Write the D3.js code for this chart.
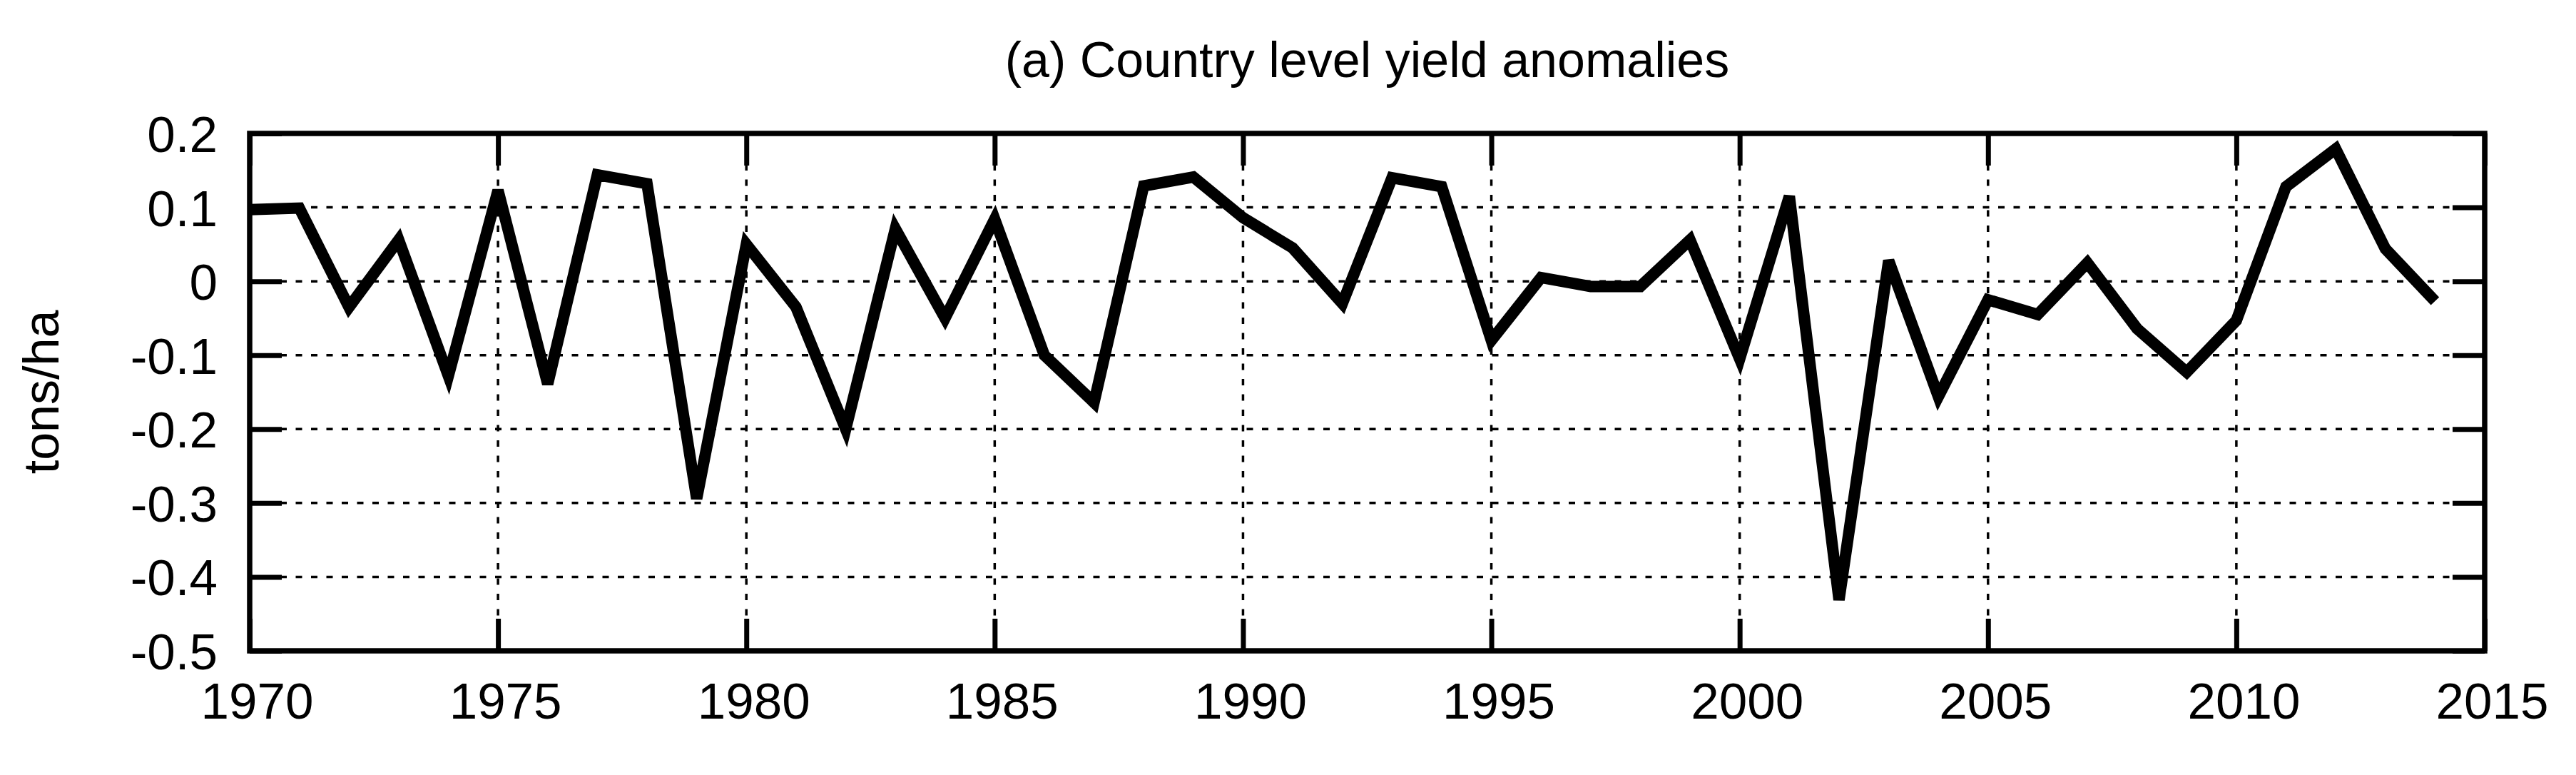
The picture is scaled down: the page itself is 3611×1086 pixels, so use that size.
<!DOCTYPE html>
<html>
<head>
<meta charset="utf-8">
<script src="https://cdn.jsdelivr.net/npm/d3@7"></script>
<style>
  html, body { margin: 0; padding: 0; background: #fff; }
  svg { display: block; }
  text { font-family: "Liberation Sans", Arial, Helvetica, sans-serif; fill: #000; }
</style>
</head>
<body>
<svg id="chart" width="3611" height="1086"></svg>
<script>
// ---- data ----
const years = [1970,1971,1972,1973,1974,1975,1976,1977,1978,1979,
               1980,1981,1982,1983,1984,1985,1986,1987,1988,1989,
               1990,1991,1992,1993,1994,1995,1996,1997,1998,1999,
               2000,2001,2002,2003,2004,2005,2006,2007,2008,2009,
               2010,2011,2012,2013,2014];
const anomalies = [0.097,0.099,-0.035,0.056,-0.128,0.123,-0.139,0.144,0.132,-0.294,
                   0.050,-0.035,-0.200,0.071,-0.050,0.084,-0.100,-0.164,0.129,0.141,
                   0.086,0.045,-0.030,0.140,0.128,-0.080,0.005,-0.007,-0.007,0.056,
                   -0.105,0.115,-0.431,0.028,-0.156,-0.025,-0.045,0.025,-0.064,-0.123,
                   -0.053,0.128,0.179,0.044,-0.027];
const xTicks = [1970,1975,1980,1985,1990,1995,2000,2005,2010,2015];
const yTicks = [0.2,0.1,0,-0.1,-0.2,-0.3,-0.4,-0.5];
const yTickLabels = ["0.2","0.1","0","-0.1","-0.2","-0.3","-0.4","-0.5"];
const titleText = "(a) Country level yield anomalies";
const yLabelText = "tons/ha";

// ---- layout ----
const W = 3611, H = 1086;
const m = {left: 350, right: 128, top: 187, bottom: 174};
const iw = W - m.left - m.right, ih = H - m.top - m.bottom;
const FONT = 71;

const svg = d3.select("#chart");
const g = svg.append("g").attr("transform", `translate(${m.left},${m.top})`);

const x = d3.scaleLinear().domain([1970, 2015]).range([0, iw]);
const y = d3.scaleLinear().domain([-0.5, 0.2]).range([ih, 0]);

// grid
g.append("g").selectAll("line")
  .data(yTicks.filter(v => v > -0.5 && v < 0.2))
  .join("line")
  .attr("x1", 0).attr("x2", iw)
  .attr("y1", d => y(d)).attr("y2", d => y(d))
  .attr("stroke", "#000").attr("stroke-width", 3.5)
  .attr("stroke-dasharray", "9,12.5");
g.append("g").selectAll("line")
  .data(xTicks.filter(v => v > 1970 && v < 2015))
  .join("line")
  .attr("y1", 0).attr("y2", ih)
  .attr("x1", d => x(d)).attr("x2", d => x(d))
  .attr("stroke", "#000").attr("stroke-width", 3.5)
  .attr("stroke-dasharray", "9,12.5");

// data line
const line = d3.line().x((d, i) => x(years[i])).y(d => y(d));
g.append("path")
  .datum(anomalies)
  .attr("d", line)
  .attr("fill", "none")
  .attr("stroke", "#000")
  .attr("stroke-width", 16)
  .attr("stroke-linejoin", "miter")
  .attr("stroke-miterlimit", 3.5)
  .attr("stroke-linecap", "butt");

// axes (ticks inward, mirrored)
const TL = 45;
const yLab = d => yTickLabels[yTicks.indexOf(d)];
const axL = d3.axisLeft(y).tickValues(yTicks).tickSizeInner(-TL).tickSizeOuter(0)
  .tickPadding(45).tickFormat(yLab);
const axR = d3.axisRight(y).tickValues(yTicks).tickSizeInner(-TL).tickSizeOuter(0).tickFormat("");
const axB = d3.axisBottom(x).tickValues(xTicks).tickSizeInner(-TL).tickSizeOuter(0)
  .tickPadding(95).tickFormat(d3.format("d"));
const axT = d3.axisTop(x).tickValues(xTicks).tickSizeInner(-TL).tickSizeOuter(0).tickFormat("");

function styleAxis(sel) {
  sel.select(".domain").remove();
  sel.selectAll(".tick line").attr("stroke", "#000").attr("stroke-width", 7);
  sel.selectAll(".tick text").attr("font-size", FONT)
     .attr("font-family", '"Liberation Sans", Arial, sans-serif').attr("fill", "#000");
}
const gl = g.append("g").call(axL).call(styleAxis);
gl.selectAll(".tick text").attr("dy", "0.36em");
g.append("g").attr("transform", `translate(${iw},0)`).call(axR).call(styleAxis);
const gb = g.append("g").attr("transform", `translate(0,${ih})`).call(axB).call(styleAxis);
gb.selectAll(".tick text").attr("dy", 0).attr("dx", 10);
g.append("g").call(axT).call(styleAxis);

// border
g.append("rect")
  .attr("x", 0).attr("y", 0).attr("width", iw).attr("height", ih)
  .attr("fill", "none").attr("stroke", "#000").attr("stroke-width", 7.5);

// title
svg.append("text")
  .attr("x", m.left + iw / 2).attr("y", 108)
  .attr("text-anchor", "middle")
  .attr("font-size", 70)
  .text(titleText);

// y label
svg.append("text")
  .attr("transform", `translate(82,${m.top + ih / 2}) rotate(-90)`)
  .attr("text-anchor", "middle")
  .attr("font-size", 70)
  .text(yLabelText);
</script>
</body>
</html>
